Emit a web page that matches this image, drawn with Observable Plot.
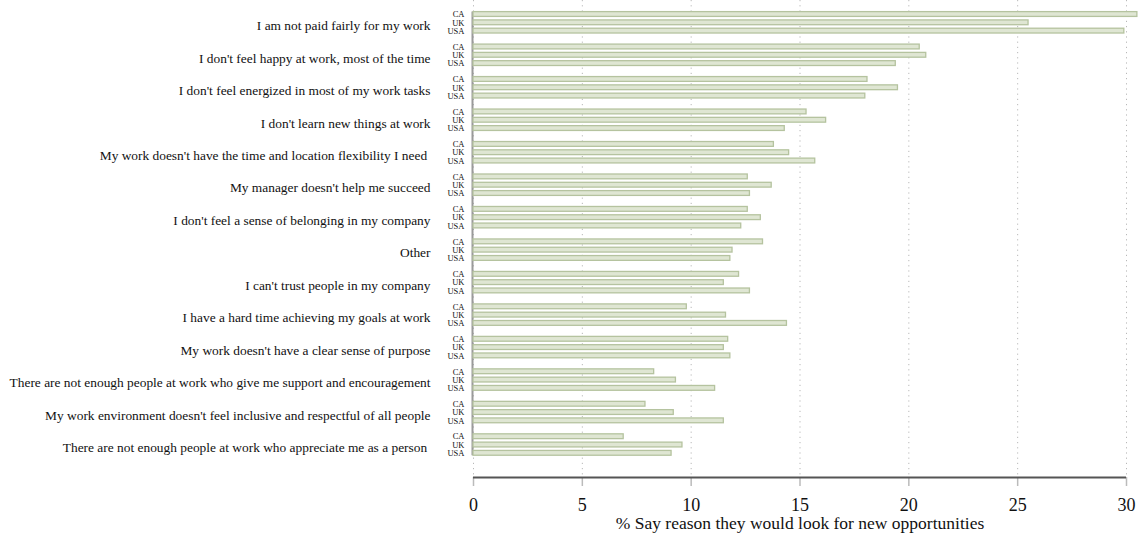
<!DOCTYPE html>
<html>
<head>
<meta charset="utf-8">
<script src="https://cdn.jsdelivr.net/npm/d3@7"></script>
<script src="https://cdn.jsdelivr.net/npm/@observablehq/plot@0.6"></script>
<style>
  html, body { margin: 0; padding: 0; background: #fff; }
  #chart svg { display: block; }
</style>
</head>
<body>
<div id="chart"></div>
<script>
// ---- Data ----
const categories = [
  "I am not paid fairly for my work",
  "I don't feel happy at work, most of the time",
  "I don't feel energized in most of my work tasks",
  "I don't learn new things at work",
  "My work doesn't have the time and location flexibility I need ",
  "My manager doesn't help me succeed",
  "I don't feel a sense of belonging in my company",
  "Other",
  "I can't trust people in my company",
  "I have a hard time achieving my goals at work",
  "My work doesn't have a clear sense of purpose",
  "There are not enough people at work who give me support and encouragement",
  "My work environment doesn't feel inclusive and respectful of all people",
  "There are not enough people at work who appreciate me as a person "
];
const countries = ["CA", "UK", "USA"];
const caValues  = [30.5, 20.5, 18.1, 15.3, 13.8, 12.6, 12.6, 13.3, 12.2, 9.8, 11.7, 8.3, 7.9, 6.9];
const ukValues  = [25.5, 20.8, 19.5, 16.2, 14.5, 13.7, 13.2, 11.9, 11.5, 11.6, 11.5, 9.3, 9.2, 9.6];
const usaValues = [29.9, 19.4, 18.0, 14.3, 15.7, 12.7, 12.3, 11.8, 12.7, 14.4, 11.8, 11.1, 11.5, 9.1];
const xTicks = [0, 5, 10, 15, 20, 25, 30];
const xLabel = "% Say reason they would look for new opportunities";

// ---- Build table ----
const seriesValues = [caValues, ukValues, usaValues];
const rowStep = 0.2555;   // spacing of country rows inside a category group
const barHalf = 0.074;
const rows = categories.flatMap((c, i) =>
  countries.map((k, j) => ({category: c, country: k, value: seriesValues[j][i], pos: i + (j - 1) * rowStep}))
);
const groups = categories.map((c, i) => ({category: c, pos: i}));
const firstPos = d3.min(rows, d => d.pos) - barHalf;
const lastPos = d3.max(rows, d => d.pos) + barHalf;

const font = "'Liberation Serif', 'DejaVu Serif', serif";

const chart = Plot.plot({
  width: 1141,
  height: 537,
  marginLeft: 473,
  marginRight: 15,
  marginTop: 0,
  marginBottom: 60,
  style: {fontFamily: font, background: "#fff", color: "#111"},
  x: {domain: [0, 30], clamp: false, axis: null},
  y: {domain: [-0.687, 14], reverse: true, axis: null},
  marks: [
    // dotted grid
    Plot.ruleX(xTicks, {stroke: "#b8b8b8", strokeWidth: 1, strokeDasharray: "1.2,4"}),
    // left baseline
    Plot.ruleX([0], {y1: firstPos, y2: lastPos, stroke: "#9a9a9a", strokeWidth: 2, dx: -1}),
    // bars
    Plot.rectX(rows, {
      x1: 0, x2: "value",
      y1: d => d.pos - barHalf, y2: d => d.pos + barHalf,
      fill: "#dfe6d3", stroke: "#b5c39f", strokeWidth: 1.3
    }),
    // country labels
    Plot.text(rows, {y: "pos", text: "country", frameAnchor: "left", textAnchor: "end", dx: -9, fontSize: 8.5, fill: "#111"}),
    // category labels
    Plot.text(groups, {y: "pos", text: "category", frameAnchor: "left", textAnchor: "end", dx: -43, dy: 3, fontSize: 13.4, fill: "#111"}),
    // x axis ticks and line
    Plot.axisX({ticks: xTicks, tickSize: 9, tickFormat: () => "", stroke: "#bbb", strokeWidth: 1.5, label: null}),
    Plot.ruleY([14], {x1: 0, x2: 30, stroke: "#555", strokeWidth: 2}),
    // tick labels
    Plot.text(xTicks, {x: d => d, text: d => String(d), frameAnchor: "bottom", lineAnchor: "middle", dy: 28, fontSize: 18, fill: "#111"}),
    // x label
    Plot.text([xLabel], {frameAnchor: "bottom", lineAnchor: "middle", dy: 46, fontSize: 17.5, fill: "#111"})
  ]
});
document.getElementById("chart").appendChild(chart);
</script>
</body>
</html>
